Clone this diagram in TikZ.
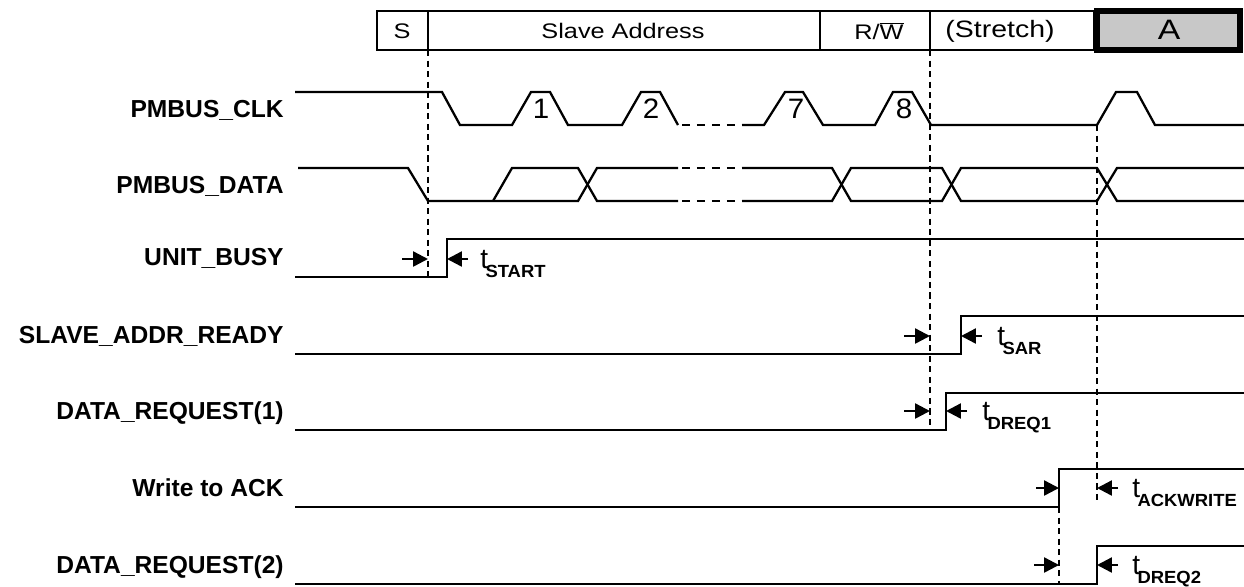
\documentclass[tikz,border=0pt]{standalone}
\usepackage{fontspec}
\setmainfont{Liberation Sans}
\newfontfamily\hdrfont{Liberation Sans}[FakeStretch=1.2]
\newfontfamily\lblfont{Liberation Sans}[FakeStretch=1.05]
\usetikzlibrary{arrows.meta}
\definecolor{ackgray}{HTML}{C8C8C8}
\newcommand{\tsub}[1]{t\kern-1.5pt\raisebox{-5.5pt}{\lblfont\fontsize{10}{11}\selectfont\bfseries #1}}

\begin{document}
\begin{tikzpicture}[x=0.02cm, y=-0.02cm,
    wave/.style={line width=1.3pt, line join=miter},
    gap/.style={line width=1.3pt, dash pattern=on 4.5pt off 4pt},
    guide/.style={line width=0.6pt, dash pattern=on 3.5pt off 2.5pt},
    dimarrow/.style={line width=1.4pt, -{Triangle[length=8.5pt,width=8.5pt]}},
    sig/.style={font=\bfseries\fontsize{14}{16}\selectfont, anchor=base east, inner sep=0pt},
    hdr/.style={font=\hdrfont\fontsize{12}{14}\selectfont, inner sep=0pt},
    num/.style={font=\lblfont\fontsize{16}{18}\selectfont, inner sep=0pt},
    tlab/.style={font=\fontsize{16}{18}\selectfont, anchor=base west, inner sep=0pt}
  ]
    \useasboundingbox (0,0) rectangle (1244,586);

    % Header
    \draw[wave] (377,11) rectangle (1094,50);
    \draw[wave] (428,11) -- (428,50);
    \draw[wave] (820,11) -- (820,50);
    \draw[wave] (930,11) -- (930,50);
    \draw[line width=3.5pt, fill=ackgray] (1097,11) rectangle (1240,50);
    \node[hdr] (hS) at (402,31) {S};
    \node[hdr] (hAddr) at (623,31) {Slave Address};
    \node[hdr] (hRW) at (879,31) {R/$\overline{\hbox{W}}$};
    \node[hdr, font=\hdrfont\fontsize{13.5}{15}\selectfont] (hStr) at (1000,31) {(Stretch)};
    \node[hdr, font=\hdrfont\fontsize{16}{18}\selectfont] (hA) at (1169,30) {A};

    % Signal names
    \node[sig] (lClk) at (284,117) {PMBUS\_CLK};
    \node[sig] (lData) at (284,193) {PMBUS\_DATA};
    \node[sig] (lBusy) at (284,265) {UNIT\_BUSY};
    \node[sig] (lSar) at (284,343) {SLAVE\_ADDR\_READY};
    \node[sig] (lDrq1) at (284,419) {DATA\_REQUEST(1)};
    \node[sig] (lAck) at (284,496) {Write to ACK};
    \node[sig] (lDrq2) at (284,573) {DATA\_REQUEST(2)};

    % Guide lines
    \draw[guide] (428,50) -- (428,277);
    \draw[guide] (930,50) -- (930,430);
    \draw[guide] (1097,125) -- (1097,503);
    \draw[guide] (1059,507) -- (1059,584);

    % PMBUS_CLK
    \draw[wave] (295,92) -- (442,92) -- (460,125) -- (512,125) -- (531,92) -- (550,92)
      -- (568,125) -- (622,125) -- (641,92) -- (660,92) -- (678,125);
    \draw[gap] (682,125) -- (742,125);
    \draw[wave] (742,125) -- (764,125) -- (785,92) -- (803,92) -- (823,125) -- (875,125)
      -- (893,92) -- (912,92) -- (931,125) -- (1097,125) -- (1116,92) -- (1137,92)
      -- (1155,125) -- (1244,125);
    \node[num] (n1) at (541,109) {1};
    \node[num] (n2) at (651,109) {2};
    \node[num] (n7) at (796,109) {7};
    \node[num] (n8) at (904,109) {8};

    % PMBUS_DATA
    \draw[wave] (298,168) -- (408,168) -- (428,201) -- (578,201) -- (597,168) -- (678,168);
    \draw[wave] (493,201) -- (512,168) -- (578,168) -- (597,201) -- (678,201);
    \draw[gap] (682,168) -- (742,168);
    \draw[gap] (682,201) -- (742,201);
    \draw[wave] (742,168) -- (832,168) -- (851,201) -- (942,201) -- (961,168) -- (1097,168)
      -- (1117,201) -- (1244,201);
    \draw[wave] (742,201) -- (832,201) -- (851,168) -- (942,168) -- (961,201) -- (1097,201)
      -- (1117,168) -- (1244,168);

    % UNIT_BUSY
    \draw[wave] (295,277) -- (447,277) -- (447,239) -- (1244,239);
    \draw[dimarrow] (402,259) -- (428,259);
    \draw[dimarrow] (468,259) -- (447,259);
    \node[tlab] (tStart) at (480,268) {\tsub{START}};

    % SLAVE_ADDR_READY
    \draw[wave] (295,354) -- (961,354) -- (961,316) -- (1244,316);
    \draw[dimarrow] (904,336) -- (930,336);
    \draw[dimarrow] (982,336) -- (961,336);
    \node[tlab] (tSar) at (997,345) {\tsub{SAR}};

    % DATA_REQUEST(1)
    \draw[wave] (295,430) -- (946,430) -- (946,393) -- (1244,393);
    \draw[dimarrow] (904,411) -- (930,411);
    \draw[dimarrow] (967,411) -- (946,411);
    \node[tlab] (tDrq1) at (982,420) {\tsub{DREQ1}};

    % Write to ACK
    \draw[wave] (295,507) -- (1059,507) -- (1059,469) -- (1244,469);
    \draw[dimarrow] (1036,488) -- (1059,488);
    \draw[dimarrow] (1118,488) -- (1097,488);
    \node[tlab] (tAck) at (1132,497) {\tsub{ACKWRITE}};

    % DATA_REQUEST(2)
    \draw[wave] (295,584) -- (1097,584) -- (1097,546) -- (1244,546);
    \draw[dimarrow] (1034,565) -- (1059,565);
    \draw[dimarrow] (1118,565) -- (1097,565);
    \node[tlab] (tDrq2) at (1132,574) {\tsub{DREQ2}};
\end{tikzpicture}
\end{document}
